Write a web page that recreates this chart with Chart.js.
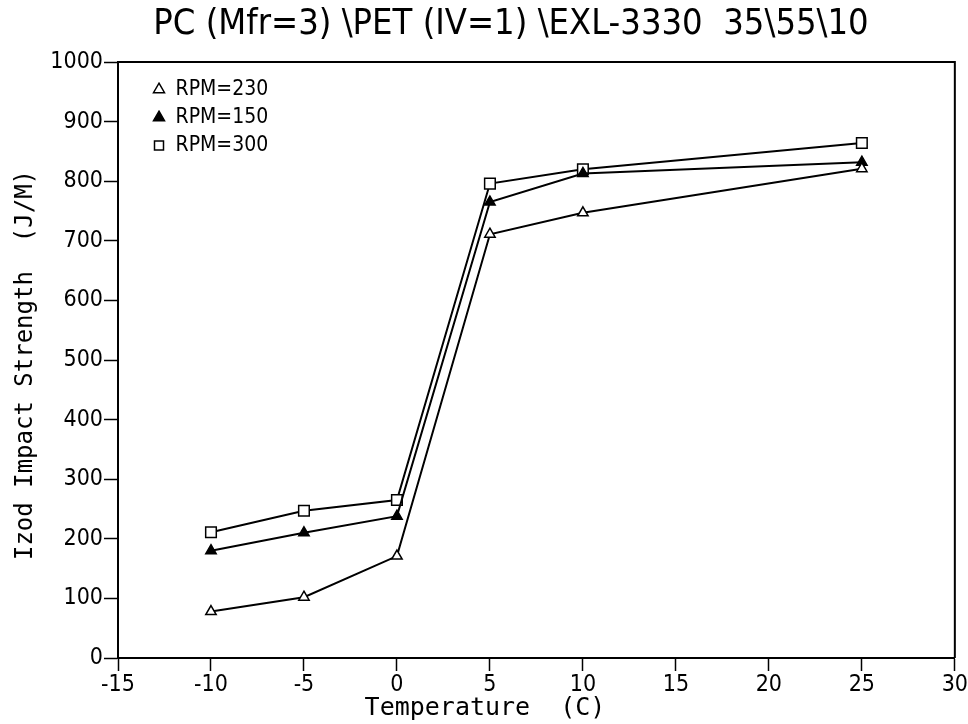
<!DOCTYPE html>
<html>
<head>
<meta charset="utf-8">
<script src="https://cdn.jsdelivr.net/npm/chart.js@4.4.1/dist/chart.umd.min.js"></script>
<style>
  html, body { margin: 0; padding: 0; background: #fff; }
  #wrap { width: 968px; height: 724px; position: relative; }
</style>
</head>
<body>
<div id="wrap"><canvas id="izodChart"></canvas></div>
<script>
const temperatures = [-10, -5, 0, 5, 10, 25];
const rpm230 = [78, 102, 171, 711, 747, 821];
const rpm150 = [180, 210, 238, 765, 813, 832];
const rpm300 = [211, 247, 265, 796, 820, 864];
const xTickValues = [-15, -10, -5, 0, 5, 10, 15, 20, 25, 30];
const yTickValues = [0, 100, 200, 300, 400, 500, 600, 700, 800, 900, 1000];

const chartTitle = 'PC (Mfr=3) \\PET (IV=1) \\EXL-3330  35\\55\\10';
const xTitle = 'Temperature  (C)';
const yTitle = 'Izod Impact Strength  (J/M)';

const narrowFont = "'Liberation Sans Narrow', 'DejaVu Sans Condensed', 'Roboto', sans-serif";
const monoFont = "'DejaVu Sans Mono', 'Liberation Mono', monospace";

const toPoints = (values) => temperatures.map((t, i) => ({ x: t, y: values[i] }));

// title, axis titles and the top/right frame lines
const framePlugin = {
  id: 'framePlugin',
  afterLayout(chart) {
    // put the legend in the top left corner of the plot
    const lg = chart.legend;
    const w = lg.width, h = lg.height;
    lg.left = chart.chartArea.left + 28;
    lg.top = chart.chartArea.top + 10;
    lg.right = lg.left + w;
    lg.bottom = lg.top + h;
  },
  afterDraw(chart) {
    const { ctx, chartArea } = chart;
    ctx.save();
    ctx.strokeStyle = '#000';
    ctx.lineWidth = 2;
    ctx.beginPath();
    ctx.moveTo(chartArea.left, chartArea.top);
    ctx.lineTo(chartArea.right, chartArea.top);
    ctx.lineTo(chartArea.right, chartArea.bottom);
    ctx.stroke();

    ctx.fillStyle = '#000';
    ctx.textAlign = 'center';
    ctx.textBaseline = 'middle';
    ctx.font = '36px ' + narrowFont;
    ctx.fillText(chartTitle, 511, 25);

    ctx.font = '25px ' + monoFont;
    ctx.fillText(xTitle, 485, 708);

    ctx.translate(26, 365);
    ctx.rotate(-Math.PI / 2);
    ctx.font = '24px ' + monoFont;
    ctx.fillText(yTitle, 0, 0);
    ctx.restore();
  }
};

const ctx = document.getElementById('izodChart').getContext('2d');

new Chart(ctx, {
  type: 'scatter',
  data: {
    datasets: [
      {
        label: 'RPM=230',
        data: toPoints(rpm230),
        showLine: true,
        borderColor: '#000',
        borderWidth: 2,
        pointStyle: 'triangle',
        pointRadius: 6,
        pointBackgroundColor: '#fff',
        pointBorderColor: '#000',
        pointBorderWidth: 1.5
      },
      {
        label: 'RPM=150',
        data: toPoints(rpm150),
        showLine: true,
        borderColor: '#000',
        borderWidth: 2,
        pointStyle: 'triangle',
        pointRadius: 6,
        pointBackgroundColor: '#000',
        pointBorderColor: '#000',
        pointBorderWidth: 1.5
      },
      {
        label: 'RPM=300',
        data: toPoints(rpm300),
        showLine: true,
        borderColor: '#000',
        borderWidth: 2,
        pointStyle: 'rect',
        pointRadius: 7.5,
        pointBackgroundColor: '#fff',
        pointBorderColor: '#000',
        pointBorderWidth: 1.5
      }
    ]
  },
  options: {
    responsive: true,
    maintainAspectRatio: false,
    animation: false,
    devicePixelRatio: 1,
    layout: {
      padding: { top: 62, right: 11, bottom: 0, left: 0 }
    },
    plugins: {
      title: { display: false },
      tooltip: { enabled: false },
      legend: {
        position: 'chartArea',
        align: 'start',
        labels: {
          usePointStyle: true,
          boxWidth: 12,
          boxHeight: 9,
          padding: 7,
          color: '#000',
          font: { family: narrowFont, size: 21 }
        }
      }
    },
    scales: {
      x: {
        type: 'linear',
        min: -15,
        max: 30,
        afterBuildTicks: (scale) => {
          scale.ticks = xTickValues.map(v => ({ value: v }));
        },
        afterFit: (scale) => {
          scale.height = 66;
        },
        grid: {
          drawOnChartArea: false,
          drawTicks: true,
          tickLength: 13,
          tickWidth: 1.5,
          color: '#000'
        },
        border: { display: true, color: '#000', width: 2 },
        ticks: {
          color: '#000',
          padding: 0,
          maxRotation: 0,
          callback: (value) => String(value),
          font: { family: narrowFont, size: 23 }
        }
      },
      y: {
        type: 'linear',
        min: 0,
        max: 1000,
        afterBuildTicks: (scale) => {
          scale.ticks = yTickValues.map(v => ({ value: v }));
        },
        afterFit: (scale) => {
          scale.width = 118;
        },
        grid: {
          drawOnChartArea: false,
          drawTicks: true,
          tickLength: 14,
          tickWidth: 1.5,
          color: '#000'
        },
        border: { display: true, color: '#000', width: 2 },
        ticks: {
          color: '#000',
          padding: 1,
          callback: (value) => String(value),
          font: { family: narrowFont, size: 23 }
        }
      }
    }
  },
  plugins: [framePlugin]
});
</script>
</body>
</html>
